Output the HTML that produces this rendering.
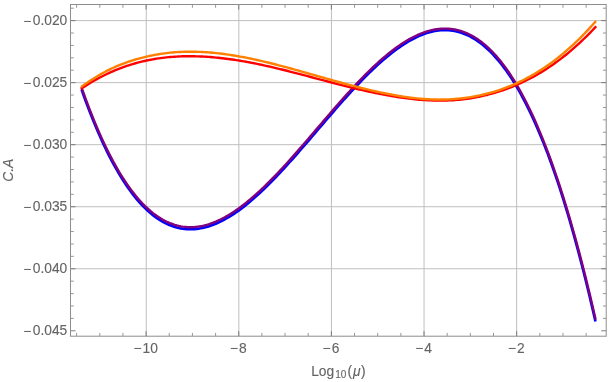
<!DOCTYPE html>
<html><head><meta charset="utf-8"><title>plot</title>
<style>html,body{margin:0;padding:0;background:#fff;overflow:hidden}text{font-family:"Liberation Sans",sans-serif}svg{display:block;will-change:transform;transform:translateZ(0)}</style></head>
<body>
<svg width="612" height="382" viewBox="0 0 612 382">
<rect width="612" height="382" fill="#fff"/>
<path d="M146.25,4.5 V336.2 M238.85,4.5 V336.2 M331.45,4.5 V336.2 M424.05,4.5 V336.2 M516.65,4.5 V336.2 M70.5,20.60 H606.2 M70.5,82.64 H606.2 M70.5,144.68 H606.2 M70.5,206.72 H606.2 M70.5,268.76 H606.2" stroke="#bfbfbf" stroke-width="1" fill="none"/>
<g fill="none" stroke-width="2.2" stroke-linecap="butt" stroke-linejoin="round">
<path d="M81.50,89.39 L83.48,94.99 L85.47,100.46 L87.45,105.79 L89.44,110.99 L91.42,116.07 L93.41,121.01 L95.39,125.83 L97.37,130.52 L99.36,135.09 L101.34,139.53 L103.33,143.85 L105.31,148.04 L107.30,152.12 L109.28,156.08 L111.27,159.92 L113.25,163.64 L115.23,167.24 L117.22,170.73 L119.20,174.11 L121.19,177.37 L123.17,180.52 L125.16,183.56 L127.14,186.49 L129.12,189.32 L131.11,192.03 L133.09,194.64 L135.08,197.15 L137.06,199.55 L139.05,201.85 L141.03,204.05 L143.02,206.14 L145.00,208.14 L146.98,210.04 L148.97,211.84 L150.95,213.55 L152.94,215.16 L154.92,216.68 L156.91,218.10 L158.89,219.44 L160.87,220.68 L162.86,221.84 L164.84,222.90 L166.83,223.88 L168.81,224.78 L170.80,225.59 L172.78,226.31 L174.77,226.96 L176.75,227.52 L178.73,228.00 L180.72,228.40 L182.70,228.73 L184.69,228.98 L186.67,229.15 L188.66,229.25 L190.64,229.28 L192.62,229.23 L194.61,229.11 L196.59,228.92 L198.58,228.67 L200.56,228.34 L202.55,227.95 L204.53,227.50 L206.51,226.98 L208.50,226.39 L210.48,225.75 L212.47,225.04 L214.45,224.27 L216.44,223.45 L218.42,222.57 L220.41,221.63 L222.39,220.63 L224.37,219.58 L226.36,218.48 L228.34,217.33 L230.33,216.13 L232.31,214.87 L234.30,213.57 L236.28,212.22 L238.26,210.82 L240.25,209.38 L242.23,207.90 L244.22,206.37 L246.20,204.80 L248.19,203.19 L250.17,201.54 L252.16,199.85 L254.14,198.13 L256.12,196.37 L258.11,194.57 L260.09,192.74 L262.08,190.88 L264.06,188.98 L266.05,187.06 L268.03,185.10 L270.01,183.12 L272.00,181.11 L273.98,179.07 L275.97,177.01 L277.95,174.93 L279.94,172.82 L281.92,170.69 L283.91,168.55 L285.89,166.38 L287.87,164.19 L289.86,161.99 L291.84,159.77 L293.83,157.54 L295.81,155.29 L297.80,153.03 L299.78,150.76 L301.76,148.48 L303.75,146.19 L305.73,143.90 L307.72,141.59 L309.70,139.28 L311.69,136.97 L313.67,134.65 L315.65,132.33 L317.64,130.01 L319.62,127.69 L321.61,125.37 L323.59,123.05 L325.58,120.74 L327.56,118.43 L329.55,116.12 L331.53,113.82 L333.51,111.53 L335.50,109.25 L337.48,106.98 L339.47,104.72 L341.45,102.48 L343.44,100.24 L345.42,98.02 L347.40,95.82 L349.39,93.64 L351.37,91.47 L353.36,89.32 L355.34,87.19 L357.33,85.08 L359.31,82.99 L361.30,80.93 L363.28,78.89 L365.26,76.88 L367.25,74.90 L369.23,72.94 L371.22,71.01 L373.20,69.11 L375.19,67.24 L377.17,65.41 L379.15,63.60 L381.14,61.83 L383.12,60.10 L385.11,58.40 L387.09,56.74 L389.08,55.12 L391.06,53.54 L393.04,51.99 L395.03,50.49 L397.01,49.03 L399.00,47.62 L400.98,46.25 L402.97,44.93 L404.95,43.65 L406.94,42.42 L408.92,41.25 L410.90,40.12 L412.89,39.05 L414.87,38.03 L416.86,37.06 L418.84,36.15 L420.83,35.30 L422.81,34.51 L424.79,33.78 L426.78,33.11 L428.76,32.51 L430.75,31.97 L432.73,31.49 L434.72,31.09 L436.70,30.75 L438.69,30.48 L440.67,30.29 L442.65,30.17 L444.64,30.12 L446.62,30.15 L448.61,30.25 L450.59,30.43 L452.58,30.69 L454.56,31.03 L456.54,31.45 L458.53,31.95 L460.51,32.53 L462.50,33.19 L464.48,33.94 L466.47,34.77 L468.45,35.69 L470.44,36.70 L472.42,37.79 L474.40,38.97 L476.39,40.24 L478.37,41.59 L480.36,43.04 L482.34,44.58 L484.33,46.22 L486.31,47.94 L488.29,49.76 L490.28,51.68 L492.26,53.70 L494.25,55.81 L496.23,58.02 L498.22,60.33 L500.20,62.74 L502.18,65.26 L504.17,67.88 L506.15,70.60 L508.14,73.43 L510.12,76.37 L512.11,79.41 L514.09,82.57 L516.08,85.84 L518.06,89.21 L520.04,92.71 L522.03,96.31 L524.01,100.04 L526.00,103.88 L527.98,107.83 L529.97,111.91 L531.95,116.11 L533.93,120.43 L535.92,124.87 L537.90,129.43 L539.89,134.12 L541.87,138.94 L543.86,143.89 L545.84,148.96 L547.83,154.16 L549.81,159.49 L551.79,164.96 L553.78,170.56 L555.76,176.29 L557.75,182.16 L559.73,188.16 L561.72,194.31 L563.70,200.61 L565.68,207.05 L567.67,213.65 L569.65,220.40 L571.64,227.30 L573.62,234.34 L575.61,241.54 L577.59,248.88 L579.58,256.37 L581.56,264.01 L583.54,271.79 L585.53,279.72 L587.51,287.80 L589.50,296.02 L591.48,304.39 L593.47,312.91 L595.45,321.56" stroke="#0000ff" stroke-width="2.6"/>
<path d="M81.50,87.29 L83.48,92.89 L85.47,98.36 L87.45,103.69 L89.44,108.90 L91.42,113.97 L93.41,118.92 L95.39,123.74 L97.38,128.43 L99.36,133.00 L101.35,137.44 L103.33,141.76 L105.32,145.96 L107.30,150.04 L109.29,153.99 L111.27,157.83 L113.26,161.55 L115.24,165.16 L117.23,168.65 L119.21,172.03 L121.20,175.29 L123.18,178.44 L125.17,181.48 L127.15,184.41 L129.14,187.24 L131.12,189.95 L133.11,192.56 L135.09,195.07 L137.08,197.47 L139.06,199.77 L141.05,201.96 L143.03,204.06 L145.02,206.06 L147.00,207.96 L148.99,209.76 L150.97,211.47 L152.96,213.08 L154.94,214.59 L156.93,216.02 L158.91,217.35 L160.90,218.60 L162.88,219.75 L164.87,220.82 L166.85,221.79 L168.84,222.69 L170.82,223.50 L172.81,224.22 L174.79,224.86 L176.78,225.43 L178.76,225.91 L180.75,226.31 L182.73,226.63 L184.72,226.88 L186.70,227.05 L188.69,227.15 L190.67,227.18 L192.66,227.13 L194.64,227.01 L196.63,226.82 L198.61,226.56 L200.60,226.24 L202.58,225.85 L204.57,225.39 L206.55,224.87 L208.54,224.28 L210.52,223.63 L212.51,222.93 L214.49,222.16 L216.48,221.33 L218.46,220.45 L220.45,219.51 L222.43,218.51 L224.42,217.46 L226.40,216.36 L228.39,215.20 L230.37,214.00 L232.36,212.74 L234.34,211.44 L236.33,210.09 L238.31,208.69 L240.30,207.25 L242.28,205.76 L244.27,204.23 L246.25,202.66 L248.24,201.05 L250.22,199.40 L252.21,197.71 L254.19,195.98 L256.17,194.22 L258.16,192.42 L260.14,190.59 L262.13,188.73 L264.11,186.83 L266.10,184.90 L268.08,182.95 L270.07,180.96 L272.05,178.95 L274.04,176.92 L276.02,174.85 L278.01,172.77 L279.99,170.66 L281.98,168.53 L283.96,166.38 L285.95,164.21 L287.93,162.03 L289.92,159.82 L291.90,157.60 L293.89,155.37 L295.87,153.12 L297.86,150.86 L299.84,148.59 L301.83,146.31 L303.81,144.02 L305.80,141.72 L307.78,139.41 L309.77,137.10 L311.75,134.79 L313.74,132.47 L315.72,130.15 L317.71,127.83 L319.69,125.51 L321.68,123.19 L323.66,120.87 L325.65,118.55 L327.63,116.24 L329.62,113.94 L331.60,111.64 L333.59,109.35 L335.57,107.07 L337.56,104.80 L339.54,102.54 L341.53,100.29 L343.51,98.06 L345.50,95.84 L347.48,93.64 L349.47,91.45 L351.45,89.28 L353.44,87.14 L355.42,85.01 L357.41,82.90 L359.39,80.82 L361.38,78.76 L363.36,76.72 L365.35,74.71 L367.33,72.73 L369.32,70.78 L371.30,68.85 L373.29,66.96 L375.27,65.09 L377.26,63.27 L379.24,61.47 L381.23,59.71 L383.21,57.98 L385.20,56.30 L387.18,54.65 L389.17,53.04 L391.15,51.47 L393.14,49.94 L395.12,48.46 L397.11,47.02 L399.09,45.63 L401.08,44.28 L403.06,42.98 L405.05,41.72 L407.03,40.52 L409.02,39.37 L411.00,38.27 L412.99,37.22 L414.97,36.23 L416.96,35.29 L418.94,34.41 L420.93,33.59 L422.91,32.83 L424.89,32.12 L426.88,31.48 L428.86,30.90 L430.85,30.38 L432.83,29.93 L434.82,29.54 L436.80,29.22 L438.79,28.96 L440.77,28.78 L442.76,28.66 L444.74,28.62 L446.73,28.65 L448.71,28.75 L450.70,28.93 L452.68,29.18 L454.67,29.51 L456.65,29.92 L458.64,30.40 L460.62,30.97 L462.61,31.62 L464.59,32.35 L466.58,33.16 L468.56,34.06 L470.55,35.04 L472.53,36.12 L474.52,37.27 L476.50,38.52 L478.49,39.86 L480.47,41.29 L482.46,42.82 L484.44,44.43 L486.43,46.14 L488.41,47.95 L490.40,49.86 L492.38,51.86 L494.37,53.96 L496.35,56.17 L498.34,58.47 L500.32,60.88 L502.31,63.39 L504.29,66.00 L506.28,68.73 L508.26,71.56 L510.25,74.50 L512.23,77.54 L514.22,80.70 L516.20,83.97 L518.19,87.35 L520.17,90.85 L522.16,94.46 L524.14,98.19 L526.13,102.04 L528.11,106.00 L530.10,110.09 L532.08,114.29 L534.07,118.62 L536.05,123.07 L538.04,127.65 L540.02,132.35 L542.01,137.17 L543.99,142.13 L545.98,147.21 L547.96,152.42 L549.95,157.77 L551.93,163.24 L553.92,168.85 L555.90,174.59 L557.89,180.47 L559.87,186.49 L561.86,192.64 L563.84,198.94 L565.83,205.37 L567.81,211.94 L569.80,218.66 L571.78,225.52 L573.77,232.52 L575.75,239.67 L577.74,246.97 L579.72,254.41 L581.71,262.00 L583.69,269.75 L585.68,277.64 L587.66,285.69 L589.65,293.89 L591.63,302.24 L593.62,310.76 L595.60,319.42" stroke="#800080" stroke-width="2.4"/>
<path d="M81.00,88.72 L82.99,87.41 L84.98,86.13 L86.97,84.88 L88.96,83.66 L90.95,82.47 L92.94,81.31 L94.92,80.18 L96.91,79.08 L98.90,78.01 L100.89,76.97 L102.88,75.95 L104.87,74.97 L106.86,74.02 L108.85,73.09 L110.84,72.19 L112.83,71.32 L114.82,70.48 L116.81,69.66 L118.79,68.87 L120.78,68.11 L122.77,67.37 L124.76,66.66 L126.75,65.98 L128.74,65.32 L130.73,64.69 L132.72,64.08 L134.71,63.50 L136.70,62.94 L138.69,62.41 L140.68,61.90 L142.66,61.42 L144.65,60.96 L146.64,60.52 L148.63,60.10 L150.62,59.71 L152.61,59.34 L154.60,59.00 L156.59,58.67 L158.58,58.37 L160.57,58.09 L162.56,57.83 L164.55,57.59 L166.54,57.37 L168.52,57.17 L170.51,56.99 L172.50,56.84 L174.49,56.70 L176.48,56.58 L178.47,56.47 L180.46,56.39 L182.45,56.32 L184.44,56.27 L186.43,56.24 L188.42,56.23 L190.41,56.23 L192.39,56.25 L194.38,56.28 L196.37,56.33 L198.36,56.39 L200.35,56.47 L202.34,56.56 L204.33,56.67 L206.32,56.79 L208.31,56.92 L210.30,57.07 L212.29,57.23 L214.28,57.41 L216.26,57.59 L218.25,57.79 L220.24,58.01 L222.23,58.23 L224.22,58.46 L226.21,58.71 L228.20,58.97 L230.19,59.24 L232.18,59.52 L234.17,59.81 L236.16,60.12 L238.15,60.43 L240.14,60.75 L242.12,61.09 L244.11,61.43 L246.10,61.78 L248.09,62.15 L250.08,62.52 L252.07,62.90 L254.06,63.29 L256.05,63.69 L258.04,64.10 L260.03,64.51 L262.02,64.94 L264.01,65.37 L265.99,65.80 L267.98,66.25 L269.97,66.70 L271.96,67.16 L273.95,67.63 L275.94,68.10 L277.93,68.57 L279.92,69.06 L281.91,69.54 L283.90,70.03 L285.89,70.53 L287.88,71.03 L289.86,71.54 L291.85,72.04 L293.84,72.56 L295.83,73.07 L297.82,73.59 L299.81,74.11 L301.80,74.63 L303.79,75.15 L305.78,75.68 L307.77,76.21 L309.76,76.73 L311.75,77.26 L313.74,77.79 L315.72,78.32 L317.71,78.85 L319.70,79.38 L321.69,79.91 L323.68,80.44 L325.67,80.96 L327.66,81.49 L329.65,82.01 L331.64,82.53 L333.63,83.05 L335.62,83.57 L337.61,84.08 L339.59,84.59 L341.58,85.10 L343.57,85.60 L345.56,86.11 L347.55,86.60 L349.54,87.09 L351.53,87.58 L353.52,88.06 L355.51,88.54 L357.50,89.01 L359.49,89.48 L361.48,89.94 L363.46,90.39 L365.45,90.84 L367.44,91.28 L369.43,91.71 L371.42,92.14 L373.41,92.56 L375.40,92.97 L377.39,93.38 L379.38,93.78 L381.37,94.17 L383.36,94.55 L385.35,94.93 L387.34,95.29 L389.32,95.65 L391.31,96.00 L393.30,96.34 L395.29,96.67 L397.28,96.99 L399.27,97.29 L401.26,97.59 L403.25,97.87 L405.24,98.15 L407.23,98.41 L409.22,98.65 L411.21,98.89 L413.19,99.10 L415.18,99.31 L417.17,99.50 L419.16,99.68 L421.15,99.84 L423.14,99.99 L425.13,100.12 L427.12,100.23 L429.11,100.33 L431.10,100.41 L433.09,100.47 L435.08,100.52 L437.06,100.56 L439.05,100.57 L441.04,100.57 L443.03,100.55 L445.02,100.52 L447.01,100.46 L449.00,100.39 L450.99,100.30 L452.98,100.18 L454.97,100.05 L456.96,99.89 L458.95,99.71 L460.94,99.51 L462.92,99.30 L464.91,99.06 L466.90,98.79 L468.89,98.51 L470.88,98.20 L472.87,97.88 L474.86,97.53 L476.85,97.16 L478.84,96.76 L480.83,96.35 L482.82,95.91 L484.81,95.45 L486.79,94.97 L488.78,94.46 L490.77,93.93 L492.76,93.38 L494.75,92.80 L496.74,92.20 L498.73,91.58 L500.72,90.93 L502.71,90.26 L504.70,89.57 L506.69,88.85 L508.68,88.11 L510.66,87.34 L512.65,86.55 L514.64,85.73 L516.63,84.89 L518.62,84.02 L520.61,83.13 L522.60,82.21 L524.59,81.27 L526.58,80.29 L528.57,79.29 L530.56,78.26 L532.55,77.20 L534.54,76.10 L536.52,74.98 L538.51,73.83 L540.50,72.65 L542.49,71.44 L544.48,70.20 L546.47,68.93 L548.46,67.62 L550.45,66.29 L552.44,64.92 L554.43,63.52 L556.42,62.09 L558.41,60.63 L560.39,59.13 L562.38,57.60 L564.37,56.04 L566.36,54.44 L568.35,52.81 L570.34,51.14 L572.33,49.44 L574.32,47.71 L576.31,45.94 L578.30,44.14 L580.29,42.30 L582.28,40.42 L584.26,38.51 L586.25,36.56 L588.24,34.57 L590.23,32.55 L592.22,30.49 L594.21,28.39 L596.20,26.26" stroke="#ff0000" stroke-width="2.4"/>
<path d="M81.00,87.07 L82.99,85.64 L84.98,84.24 L86.97,82.87 L88.95,81.53 L90.94,80.22 L92.93,78.94 L94.92,77.70 L96.91,76.48 L98.90,75.30 L100.88,74.15 L102.87,73.03 L104.86,71.94 L106.85,70.90 L108.84,69.88 L110.83,68.91 L112.81,67.97 L114.80,67.06 L116.79,66.19 L118.78,65.35 L120.77,64.55 L122.76,63.78 L124.75,63.04 L126.73,62.33 L128.72,61.65 L130.71,60.99 L132.70,60.36 L134.69,59.75 L136.68,59.17 L138.66,58.61 L140.65,58.07 L142.64,57.56 L144.63,57.06 L146.62,56.59 L148.61,56.14 L150.59,55.72 L152.58,55.31 L154.57,54.93 L156.56,54.57 L158.55,54.24 L160.54,53.92 L162.53,53.63 L164.51,53.36 L166.50,53.11 L168.49,52.88 L170.48,52.67 L172.47,52.48 L174.46,52.32 L176.44,52.17 L178.43,52.05 L180.42,51.94 L182.41,51.86 L184.40,51.79 L186.39,51.74 L188.37,51.71 L190.36,51.70 L192.35,51.71 L194.34,51.73 L196.33,51.78 L198.32,51.83 L200.31,51.91 L202.29,52.00 L204.28,52.11 L206.27,52.24 L208.26,52.38 L210.25,52.54 L212.24,52.71 L214.22,52.90 L216.21,53.10 L218.20,53.32 L220.19,53.55 L222.18,53.79 L224.17,54.05 L226.15,54.32 L228.14,54.60 L230.13,54.90 L232.12,55.21 L234.11,55.53 L236.10,55.86 L238.08,56.20 L240.07,56.56 L242.06,56.92 L244.05,57.30 L246.04,57.69 L248.03,58.08 L250.02,58.49 L252.00,58.91 L253.99,59.33 L255.98,59.77 L257.97,60.21 L259.96,60.66 L261.95,61.12 L263.93,61.58 L265.92,62.06 L267.91,62.54 L269.90,63.03 L271.89,63.52 L273.88,64.02 L275.86,64.53 L277.85,65.04 L279.84,65.56 L281.83,66.09 L283.82,66.61 L285.81,67.15 L287.80,67.68 L289.78,68.23 L291.77,68.77 L293.76,69.32 L295.75,69.87 L297.74,70.42 L299.73,70.98 L301.71,71.54 L303.70,72.10 L305.69,72.66 L307.68,73.23 L309.67,73.79 L311.66,74.36 L313.64,74.93 L315.63,75.49 L317.62,76.06 L319.61,76.63 L321.60,77.19 L323.59,77.76 L325.58,78.32 L327.56,78.89 L329.55,79.45 L331.54,80.01 L333.53,80.56 L335.52,81.12 L337.51,81.67 L339.49,82.22 L341.48,82.76 L343.47,83.30 L345.46,83.84 L347.45,84.37 L349.44,84.90 L351.42,85.43 L353.41,85.95 L355.40,86.46 L357.39,86.97 L359.38,87.47 L361.37,87.97 L363.36,88.46 L365.34,88.95 L367.33,89.42 L369.32,89.89 L371.31,90.36 L373.30,90.82 L375.29,91.26 L377.27,91.71 L379.26,92.14 L381.25,92.57 L383.24,92.98 L385.23,93.39 L387.22,93.79 L389.20,94.18 L391.19,94.55 L393.18,94.92 L395.17,95.28 L397.16,95.63 L399.15,95.96 L401.14,96.29 L403.12,96.60 L405.11,96.90 L407.10,97.18 L409.09,97.45 L411.08,97.71 L413.07,97.95 L415.05,98.18 L417.04,98.39 L419.03,98.59 L421.02,98.77 L423.01,98.93 L425.00,99.07 L426.98,99.20 L428.97,99.31 L430.96,99.40 L432.95,99.47 L434.94,99.53 L436.93,99.56 L438.92,99.58 L440.90,99.57 L442.89,99.55 L444.88,99.50 L446.87,99.44 L448.86,99.35 L450.85,99.25 L452.83,99.12 L454.82,98.98 L456.81,98.81 L458.80,98.63 L460.79,98.42 L462.78,98.19 L464.76,97.94 L466.75,97.67 L468.74,97.38 L470.73,97.07 L472.72,96.74 L474.71,96.38 L476.69,96.00 L478.68,95.60 L480.67,95.18 L482.66,94.73 L484.65,94.26 L486.64,93.77 L488.63,93.25 L490.61,92.71 L492.60,92.14 L494.59,91.55 L496.58,90.94 L498.57,90.29 L500.56,89.63 L502.54,88.93 L504.53,88.21 L506.52,87.46 L508.51,86.69 L510.50,85.89 L512.49,85.06 L514.47,84.20 L516.46,83.31 L518.45,82.39 L520.44,81.45 L522.43,80.47 L524.42,79.47 L526.41,78.43 L528.39,77.37 L530.38,76.27 L532.37,75.14 L534.36,73.99 L536.35,72.80 L538.34,71.57 L540.32,70.32 L542.31,69.03 L544.30,67.71 L546.29,66.36 L548.28,64.98 L550.27,63.56 L552.25,62.10 L554.24,60.62 L556.23,59.09 L558.22,57.54 L560.21,55.94 L562.20,54.32 L564.19,52.65 L566.17,50.96 L568.16,49.22 L570.15,47.45 L572.14,45.64 L574.13,43.79 L576.12,41.91 L578.10,39.99 L580.09,38.03 L582.08,36.04 L584.07,34.00 L586.06,31.93 L588.05,29.81 L590.03,27.66 L592.02,25.47 L594.01,23.23 L596.00,20.96" stroke="#ff8000" stroke-width="2.4"/>
</g>
<path d="M76.62,336.2 v-3.3 M76.62,4.5 v3.3 M99.78,336.2 v-3.3 M99.78,4.5 v3.3 M122.94,336.2 v-3.3 M122.94,4.5 v3.3 M169.26,336.2 v-3.3 M169.26,4.5 v3.3 M192.42,336.2 v-3.3 M192.42,4.5 v3.3 M215.58,336.2 v-3.3 M215.58,4.5 v3.3 M261.90,336.2 v-3.3 M261.90,4.5 v3.3 M285.06,336.2 v-3.3 M285.06,4.5 v3.3 M308.22,336.2 v-3.3 M308.22,4.5 v3.3 M354.54,336.2 v-3.3 M354.54,4.5 v3.3 M377.70,336.2 v-3.3 M377.70,4.5 v3.3 M400.86,336.2 v-3.3 M400.86,4.5 v3.3 M447.18,336.2 v-3.3 M447.18,4.5 v3.3 M470.34,336.2 v-3.3 M470.34,4.5 v3.3 M493.50,336.2 v-3.3 M493.50,4.5 v3.3 M539.82,336.2 v-3.3 M539.82,4.5 v3.3 M562.98,336.2 v-3.3 M562.98,4.5 v3.3 M586.14,336.2 v-3.3 M586.14,4.5 v3.3 M70.5,8.19 h3.3 M606.2,8.19 h-3.3 M70.5,33.01 h3.3 M606.2,33.01 h-3.3 M70.5,45.42 h3.3 M606.2,45.42 h-3.3 M70.5,57.82 h3.3 M606.2,57.82 h-3.3 M70.5,70.23 h3.3 M606.2,70.23 h-3.3 M70.5,95.05 h3.3 M606.2,95.05 h-3.3 M70.5,107.46 h3.3 M606.2,107.46 h-3.3 M70.5,119.86 h3.3 M606.2,119.86 h-3.3 M70.5,132.27 h3.3 M606.2,132.27 h-3.3 M70.5,157.09 h3.3 M606.2,157.09 h-3.3 M70.5,169.50 h3.3 M606.2,169.50 h-3.3 M70.5,181.90 h3.3 M606.2,181.90 h-3.3 M70.5,194.31 h3.3 M606.2,194.31 h-3.3 M70.5,219.13 h3.3 M606.2,219.13 h-3.3 M70.5,231.54 h3.3 M606.2,231.54 h-3.3 M70.5,243.94 h3.3 M606.2,243.94 h-3.3 M70.5,256.35 h3.3 M606.2,256.35 h-3.3 M70.5,281.17 h3.3 M606.2,281.17 h-3.3 M70.5,293.58 h3.3 M606.2,293.58 h-3.3 M70.5,305.98 h3.3 M606.2,305.98 h-3.3 M70.5,318.39 h3.3 M606.2,318.39 h-3.3" stroke="#6c6c6c" stroke-width="0.7" fill="none"/>
<path d="M146.10,336.2 v-5.0 M146.10,4.5 v5.0 M238.74,336.2 v-5.0 M238.74,4.5 v5.0 M331.38,336.2 v-5.0 M331.38,4.5 v5.0 M424.02,336.2 v-5.0 M424.02,4.5 v5.0 M516.66,336.2 v-5.0 M516.66,4.5 v5.0 M70.5,20.60 h5.0 M606.2,20.60 h-5.0 M70.5,82.64 h5.0 M606.2,82.64 h-5.0 M70.5,144.68 h5.0 M606.2,144.68 h-5.0 M70.5,206.72 h5.0 M606.2,206.72 h-5.0 M70.5,268.76 h5.0 M606.2,268.76 h-5.0 M70.5,330.80 h5.0 M606.2,330.80 h-5.0" stroke="#707070" stroke-width="0.9" fill="none"/>
<rect x="70.5" y="4.5" width="535.7" height="331.7" fill="none" stroke="#8e8e8e" stroke-width="1"/>
<g class="t" font-size="13.8" fill="#646464" stroke="#646464" stroke-width="0.12">
<text transform="translate(67.3,25.20) scale(1,1.035)" text-anchor="end"><tspan dy="1.0">−</tspan><tspan dx="1.4" dy="-1.0">0.020</tspan></text>
<text transform="translate(67.3,87.24) scale(1,1.035)" text-anchor="end"><tspan dy="1.0">−</tspan><tspan dx="1.4" dy="-1.0">0.025</tspan></text>
<text transform="translate(67.3,149.28) scale(1,1.035)" text-anchor="end"><tspan dy="1.0">−</tspan><tspan dx="1.4" dy="-1.0">0.030</tspan></text>
<text transform="translate(67.3,211.32) scale(1,1.035)" text-anchor="end"><tspan dy="1.0">−</tspan><tspan dx="1.4" dy="-1.0">0.035</tspan></text>
<text transform="translate(67.3,273.36) scale(1,1.035)" text-anchor="end"><tspan dy="1.0">−</tspan><tspan dx="1.4" dy="-1.0">0.040</tspan></text>
<text transform="translate(67.3,335.40) scale(1,1.035)" text-anchor="end"><tspan dy="1.0">−</tspan><tspan dx="1.4" dy="-1.0">0.045</tspan></text>
<text transform="translate(145.70,352.7) scale(1,1.035)" text-anchor="middle"><tspan dy="0.6">−</tspan><tspan dx="1.0" dy="-0.6">10</tspan></text>
<text transform="translate(238.34,352.7) scale(1,1.035)" text-anchor="middle"><tspan dy="0.6">−</tspan><tspan dx="1.0" dy="-0.6">8</tspan></text>
<text transform="translate(330.98,352.7) scale(1,1.035)" text-anchor="middle"><tspan dy="0.6">−</tspan><tspan dx="1.0" dy="-0.6">6</tspan></text>
<text transform="translate(423.62,352.7) scale(1,1.035)" text-anchor="middle"><tspan dy="0.6">−</tspan><tspan dx="1.0" dy="-0.6">4</tspan></text>
<text transform="translate(516.26,352.7) scale(1,1.035)" text-anchor="middle"><tspan dy="0.6">−</tspan><tspan dx="1.0" dy="-0.6">2</tspan></text>
<text x="311.2" y="375.6">Log<tspan font-size="10" dx="1.05" dy="2.5">10</tspan><tspan dx="1.0" dy="-2.5">(</tspan><tspan dx="0.9" font-style="italic">μ</tspan><tspan dx="0.4">)</tspan></text>
<text transform="translate(13.2,170.3) rotate(-90)" text-anchor="middle" font-style="italic">C.A</text>
</g>
</svg>
</body></html>
